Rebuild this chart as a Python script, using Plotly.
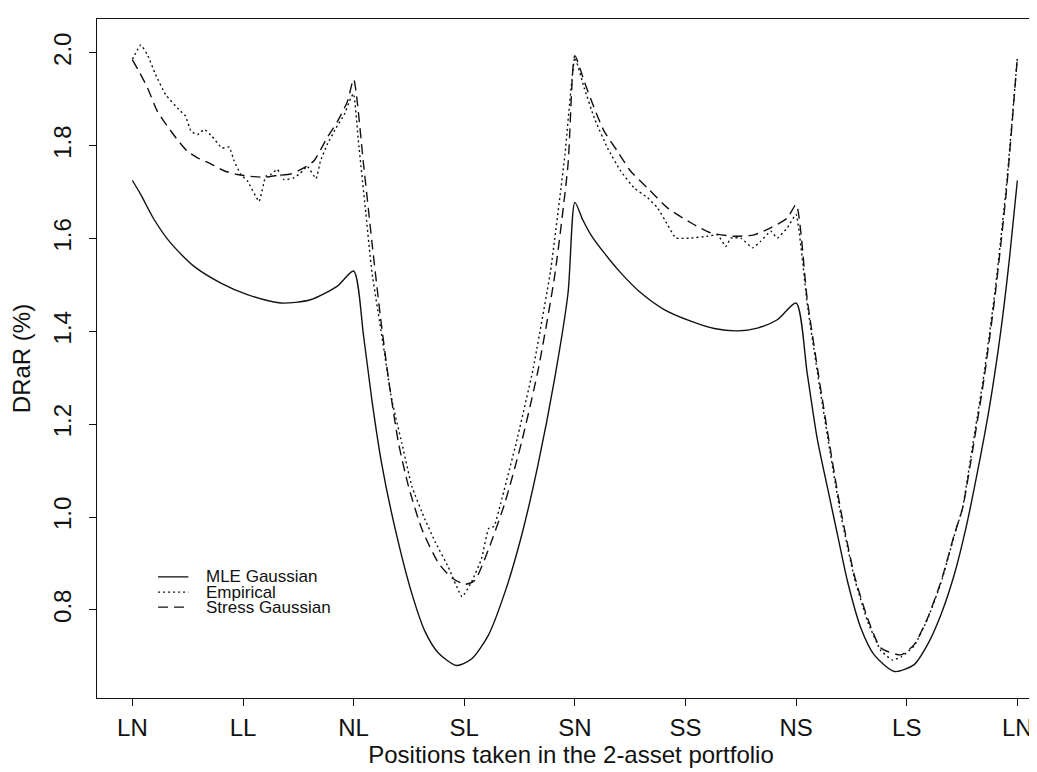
import plotly.graph_objects as go

# Position categories on the x axis
categories = ["LN", "LL", "NL", "SL", "SN", "SS", "NS", "LS", "LN"]
tick_pos = [0, 1, 2, 3, 4, 5, 6, 7, 8]
y_ticks = [0.8, 1.0, 1.2, 1.4, 1.6, 1.8, 2.0]

# MLE Gaussian (solid)
mle_x = [0, 0.075, 0.196, 0.347, 0.558, 0.80, 1.04, 1.34, 1.61, 1.85, 2.0,
         2.09, 2.165, 2.255, 2.375, 2.525, 2.646, 2.766, 2.93, 3.065, 3.215,
         3.365, 3.515, 3.667, 3.817, 3.938, 4.0, 4.07, 4.145, 4.265, 4.415,
         4.596, 4.807, 5.048, 5.26, 5.47, 5.65, 5.83, 6.0, 6.1, 6.19, 6.3,
         6.374, 6.465, 6.585, 6.706, 6.89, 7.067, 7.188, 7.31, 7.43, 7.535,
         7.65, 7.75, 7.85, 7.93, 8.0]
mle_y = [1.725, 1.695, 1.641, 1.590, 1.540, 1.504, 1.479, 1.461, 1.468, 1.497, 1.53,
         1.39, 1.252, 1.113, 0.975, 0.836, 0.753, 0.707, 0.680, 0.694, 0.744,
         0.836, 0.957, 1.113, 1.298, 1.482, 1.678, 1.641, 1.608, 1.569, 1.526,
         1.483, 1.447, 1.422, 1.406, 1.401, 1.407, 1.425, 1.461, 1.31, 1.17, 1.045,
         0.962, 0.861, 0.761, 0.703, 0.667, 0.682, 0.725, 0.79, 0.876, 0.976,
         1.11, 1.24, 1.40, 1.56, 1.725]

# Empirical (dotted)
emp_x = [0, 0.075, 0.136, 0.21, 0.30, 0.42, 0.48, 0.53, 0.59, 0.65, 0.72, 0.81,
         0.875, 0.92, 0.98, 1.04, 1.145, 1.205, 1.25, 1.31, 1.37, 1.46, 1.52,
         1.58, 1.66, 1.70, 1.76, 1.84, 1.915, 1.975, 2.0, 2.045, 2.105, 2.165,
         2.255, 2.345, 2.435, 2.525, 2.646, 2.736, 2.856, 2.98, 3.066, 3.156,
         3.22, 3.27, 3.33, 3.47, 3.62, 3.78, 3.91, 4.0, 4.084, 4.175, 4.295,
         4.415, 4.536, 4.656, 4.747, 4.837, 4.912, 5.05, 5.2, 5.29, 5.365, 5.41,
         5.5, 5.606, 5.68, 5.77, 5.83, 5.92, 6.0, 6.1, 6.2, 6.3, 6.4, 6.525,
         6.646, 6.766, 6.87, 6.947, 7.067, 7.188, 7.31, 7.43, 7.505, 7.6, 7.7,
         7.8, 7.9, 8.0]
emp_y = [1.986, 2.017, 1.996, 1.953, 1.91, 1.878, 1.864, 1.831, 1.824, 1.835, 1.82, 1.795,
         1.797, 1.767, 1.738, 1.724, 1.68, 1.734, 1.738, 1.749, 1.727, 1.731, 1.741,
         1.756, 1.729, 1.767, 1.802, 1.838, 1.867, 1.903, 1.912, 1.805, 1.667, 1.528,
         1.39, 1.252, 1.16, 1.067, 0.994, 0.947, 0.892, 0.828, 0.86, 0.91,
         0.975, 0.98, 1.03, 1.16, 1.316, 1.53, 1.78, 1.99, 1.925, 1.86, 1.795,
         1.745, 1.709, 1.688, 1.666, 1.63, 1.601, 1.601, 1.605, 1.608, 1.583, 1.601,
         1.601, 1.58, 1.594, 1.616, 1.601, 1.623, 1.652, 1.46, 1.30, 1.15, 1.01, 0.87,
         0.775, 0.712, 0.692, 0.698, 0.722, 0.78, 0.858, 0.96, 1.02, 1.16, 1.31,
         1.49, 1.71, 1.99]

# Stress Gaussian (dashed)
str_x = [0, 0.06, 0.136, 0.226, 0.316, 0.407, 0.497, 0.588, 0.708, 0.829, 0.95,
         1.07, 1.19, 1.31, 1.43, 1.55, 1.64, 1.76, 1.855, 1.945, 2.0, 2.09, 2.165,
         2.24, 2.315, 2.405, 2.495, 2.615, 2.766, 2.886, 3.006, 3.097, 3.217,
         3.367, 3.517, 3.667, 3.817, 3.938, 4.0, 4.084, 4.175, 4.265, 4.385,
         4.505, 4.656, 4.837, 5.048, 5.229, 5.44, 5.62, 5.77, 5.92, 6.0, 6.1,
         6.2, 6.3, 6.4, 6.525, 6.646, 6.766, 6.947, 7.067, 7.188, 7.31, 7.43,
         7.505, 7.6, 7.7, 7.8, 7.9, 8.0]
str_y = [1.985, 1.96, 1.925, 1.874, 1.842, 1.813, 1.788, 1.774, 1.761, 1.746, 1.738,
         1.734, 1.732, 1.736, 1.739, 1.752, 1.767, 1.817, 1.853, 1.896, 1.943, 1.759, 1.593,
         1.436, 1.298, 1.16, 1.067, 0.975, 0.901, 0.869, 0.855, 0.864, 0.929,
         1.03, 1.16, 1.316, 1.519, 1.759, 1.994, 1.939, 1.881, 1.831, 1.788,
         1.745, 1.709, 1.666, 1.634, 1.612, 1.605, 1.608, 1.623, 1.644, 1.673, 1.47,
         1.31, 1.16, 1.019, 0.876, 0.782, 0.718, 0.703, 0.725, 0.782, 0.861, 0.962,
         1.019, 1.15, 1.30, 1.48, 1.70, 1.99]

series_names = ["MLE Gaussian", "Empirical", "Stress Gaussian"]
dashes = ["solid", "2px,3px", "10px,6px"]
smooth = [0.7, 0.35, 0.6]

FONT = "Liberation Sans, Arial, Helvetica, sans-serif"
INK = "#111111"

fig = go.Figure()
for name, xs, ys, d, sm in zip(series_names, [mle_x, emp_x, str_x],
                               [mle_y, emp_y, str_y], dashes, smooth):
    fig.add_trace(go.Scatter(x=xs, y=ys, mode="lines", name=name,
                             line=dict(color=INK, width=1.4, dash=d,
                                       shape="spline", smoothing=sm),
                             showlegend=False))

# Legend drawn in the plot (R-style, borderless, tightly spaced)
leg_y = [0.871, 0.838, 0.806]
for name, d, ly in zip(series_names, dashes, leg_y):
    fig.add_shape(type="line", xref="x", yref="y", x0=0.232, x1=0.506, y0=ly, y1=ly,
                  line=dict(color=INK, width=1.3, dash=d))
    fig.add_annotation(x=0.648, y=ly, xref="x", yref="y", text=name, showarrow=False,
                       xanchor="left", yanchor="middle",
                       font=dict(family=FONT, size=17, color=INK))

fig.update_layout(
    width=1037, height=772,
    margin=dict(l=89, r=0, t=11, b=82),
    paper_bgcolor="white", plot_bgcolor="white",
    font=dict(family=FONT, color=INK),
)
fig.update_xaxes(
    range=[-0.32, 8.25], tickvals=tick_pos, ticktext=categories,
    showgrid=False, zeroline=False, showline=True, linecolor=INK, linewidth=1.3,
    mirror=True, ticks="outside", ticklen=7, tickcolor=INK, tickwidth=1,
    tickfont=dict(size=24, family=FONT, color=INK), ticklabelstandoff=1,
    title=dict(text="Positions taken in the 2-asset portfolio",
               font=dict(size=24, family=FONT, color=INK), standoff=4),
)
fig.update_yaxes(
    range=[0.61, 2.073], tickvals=y_ticks, ticktext=[f"{v:.1f}" for v in y_ticks],
    tickangle=-90, showgrid=False, zeroline=False, showline=True, linecolor=INK,
    linewidth=1.3, mirror=False, ticks="outside", ticklen=7, tickcolor=INK, tickwidth=1,
    tickfont=dict(size=24, family=FONT, color=INK), ticklabelstandoff=8,
    title=dict(text="DRaR (%)", font=dict(size=24, family=FONT, color=INK), standoff=12),
)

fig.write_html("out.html")
